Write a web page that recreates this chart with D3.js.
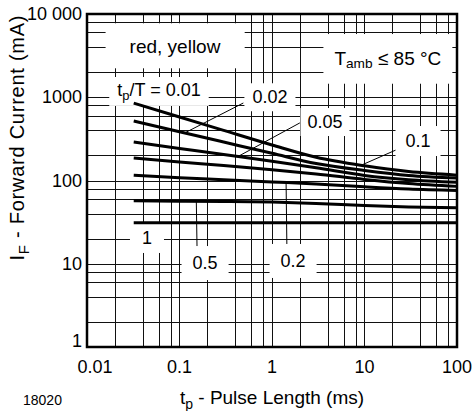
<!DOCTYPE html>
<html>
<head>
<meta charset="utf-8">
<script src="https://cdn.jsdelivr.net/npm/d3@7/dist/d3.min.js"></script>
<style>
  html, body { margin: 0; padding: 0; background: #fff; }
  svg { display: block; font-family: "Liberation Sans", Arial, Helvetica, sans-serif; }
</style>
</head>
<body>
<svg id="chart" width="473" height="411"></svg>
<script>
// ---------- data ----------
const pulseLength = [0.032, 0.1, 0.3, 1, 3, 10, 30, 100];          // ms
const dutyCycles  = ["0.01", "0.02", "0.05", "0.1", "0.2", "0.5", "1"];
const cur_001 = [850, 580, 400, 267, 190, 150, 128, 116];           // mA
const cur_002 = [519, 386, 290, 212, 160, 132, 115, 107];
const cur_005 = [290, 243, 205, 170, 142, 115, 102, 95];
const cur_01  = [186, 167, 151, 135, 120, 103, 92, 85];
const cur_02  = [116, 108, 102, 96, 91, 84, 79, 76];
const cur_05  = [57, 56.5, 56, 55, 53, 50, 48, 47];
const cur_1   = [31, 31, 31, 31, 31, 31, 31, 31];
const seriesValues = [cur_001, cur_002, cur_005, cur_01, cur_02, cur_05, cur_1];

const xTickValues = [0.01, 0.1, 1, 10, 100];
const xTickLabels = ["0.01", "0.1", "1", "10", "100"];
const yTickValues = [1, 10, 100, 1000, 10000];
const yTickLabels = ["1", "10", "100", "1000", "10 000"];
const gridMantissas = [1, 2, 4, 6, 8];

// ---------- layout ----------
const L = 87, R = 457, T = 14, B = 347;
const svg = d3.select("#chart");

const x = d3.scaleLog().domain([0.01, 100]).range([L, R]);
const y = d3.scaleLog().domain([1, 10000]).range([B, T]);

const keepGrid = v => {
  const m = Math.round(v / Math.pow(10, Math.floor(Math.log10(v) + 1e-9)));
  return gridMantissas.includes(m);
};

// grid
const g = svg.append("g");
g.selectAll("line.vx").data(x.ticks().filter(keepGrid)).join("line")
  .attr("x1", d => Math.round(x(d)) + 0.5).attr("x2", d => Math.round(x(d)) + 0.5)
  .attr("y1", T).attr("y2", B)
  .attr("stroke", "#111").attr("stroke-width", 1);
g.selectAll("line.hy").data(y.ticks().filter(keepGrid)).join("line")
  .attr("y1", d => Math.round(y(d)) + 0.5).attr("y2", d => Math.round(y(d)) + 0.5)
  .attr("x1", L).attr("x2", R)
  .attr("stroke", "#111").attr("stroke-width", 1);

// ---------- annotations (data coordinates) ----------
const curveLabels = [
  {parts: [["t"], ["p", "sub"], ["/T = 0.01"]], x: 0.06, y: 1222, px: 8, py: 3},
  {parts: [["0.02"]], x: 0.95, y: 1000, px: 8, py: 4, lead: [[0.49, 853], [0.114, 373]]},
  {parts: [["0.05"]], x: 3.74, y: 504, px: 7, py: 4, lead: [[2.0, 492], [0.45, 200]]},
  {parts: [["0.1"]], x: 37.9, y: 298, px: 10, py: 5, lead: [[26, 253], [8.9, 150]]},
  {parts: [["0.2"]], x: 1.69, y: 10.8, px: 11, py: 7, lead: [[1.45, 14.6], [1.42, 95]]},
  {parts: [["0.5"]], x: 0.189, y: 10.2, px: 11, py: 7, lead: [[0.155, 13.8], [0.152, 56.3]]},
  {parts: [["1"]], x: 0.0445, y: 20.4, px: 12, py: 5},
  {parts: [["red, yellow"]], x: 0.0894, y: 4150, px: 24, py: 12, size: 19},
  {parts: [["T"], ["amb", "sub"], [" \u2264 85 \u00b0C"]], x: 17.9, y: 3000, px: 11, py: 13, size: 19}
];

// leader lines
svg.append("g").selectAll("line").data(curveLabels.filter(d => d.lead)).join("line")
  .attr("x1", d => x(d.lead[0][0])).attr("y1", d => y(d.lead[0][1]))
  .attr("x2", d => x(d.lead[1][0])).attr("y2", d => y(d.lead[1][1]))
  .attr("stroke", "#000").attr("stroke-width", 1);

// boxes + texts
const labG = svg.append("g");
curveLabels.forEach(d => {
  const grp = labG.append("g");
  const rect = grp.append("rect").attr("fill", "#fff");
  const fs = d.size || 18;
  const t = grp.append("text")
    .attr("x", x(d.x)).attr("y", y(d.y))
    .attr("text-anchor", "middle")
    .attr("dominant-baseline", "central")
    .attr("font-size", fs).attr("fill", "#000");
  let shifted = false;
  d.parts.forEach(p => {
    const ts = t.append("tspan").text(p[0]);
    if (p[1] === "sub") {
      ts.attr("font-size", fs * 0.72).attr("dy", fs * 0.3);
      shifted = true;
    } else if (shifted) {
      ts.attr("dy", -fs * 0.3);
      shifted = false;
    }
  });
  d._text = t; d._rect = rect;
});

// curves
const line = d3.line().x(d => x(d[0])).y(d => y(d[1])).curve(d3.curveMonotoneX);
const curveG = svg.append("g");
curveG.selectAll("path").data(seriesValues).join("path")
  .attr("d", vals => line(pulseLength.map((p, i) => [p, vals[i]])))
  .attr("fill", "none").attr("stroke", "#000").attr("stroke-width", 3)
  .attr("stroke-linecap", "butt");

// size boxes after text exists
curveLabels.forEach(d => {
  const bb = d._text.node().getBBox();
  d._rect.attr("x", bb.x - d.px).attr("y", bb.y - d.py)
    .attr("width", bb.width + 2 * d.px).attr("height", bb.height + 2 * d.py);
});
curveG.raise();
labG.selectAll("text").raise();

// frame
svg.append("rect").attr("x", L).attr("y", T).attr("width", R - L).attr("height", B - T)
  .attr("fill", "none").attr("stroke", "#000").attr("stroke-width", 2.5);

// tick labels
const last = xTickValues.length - 1;
svg.append("g").selectAll("text").data(xTickValues).join("text")
  .attr("x", (d, i) => i === last ? 472 : x(d) + (i === 0 ? 8 : 0))
  .attr("y", 367)
  .attr("text-anchor", (d, i) => i === last ? "end" : "middle")
  .attr("dominant-baseline", "central")
  .attr("font-size", 18).text((d, i) => xTickLabels[i]);
svg.append("g").selectAll("text").data(yTickValues).join("text")
  .attr("x", 82)
  .attr("y", (d, i) => y(d) + (i === 0 ? -6 : 0))
  .attr("text-anchor", "end").attr("dominant-baseline", "central")
  .attr("font-size", 18).text((d, i) => yTickLabels[i]);

// axis titles
const xt = svg.append("text").attr("x", (L + R) / 2).attr("y", 404)
  .attr("text-anchor", "middle").attr("font-size", 19);
xt.append("tspan").text("t");
xt.append("tspan").text("p").attr("font-size", 14).attr("dy", 5);
xt.append("tspan").text(" - Pulse Length (ms)").attr("dy", -5);

const yt = svg.append("text").attr("transform", "translate(24,138) rotate(-90)")
  .attr("text-anchor", "middle").attr("font-size", 20)
  .attr("textLength", 245).attr("lengthAdjust", "spacing");
yt.append("tspan").text("I");
yt.append("tspan").text("F").attr("font-size", 15).attr("dy", 5);
yt.append("tspan").text(" - Forward Current (mA)").attr("dy", -5);

svg.append("text").attr("x", 23).attr("y", 405).attr("font-size", 14).text("18020");
</script>
</body>
</html>
